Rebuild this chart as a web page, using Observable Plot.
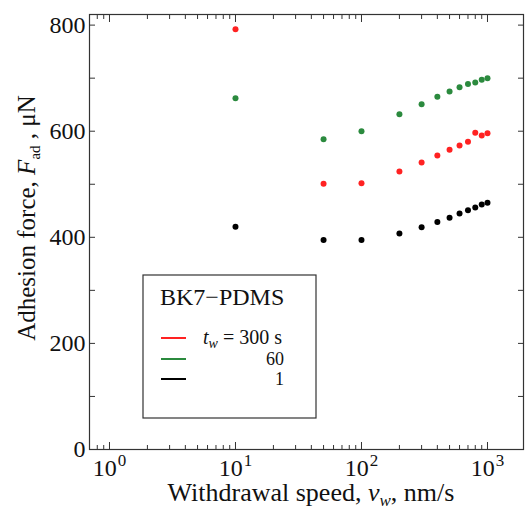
<!DOCTYPE html>
<html><head><meta charset="utf-8">
<script src="https://cdn.jsdelivr.net/npm/d3@7"></script>
<script src="https://cdn.jsdelivr.net/npm/@observablehq/plot@0.6"></script>
<style>
html,body{margin:0;padding:0;background:#fff;}
svg, svg text{font-family:"Liberation Serif","DejaVu Serif",serif;}
</style>
</head><body><div id="chart"></div>
<script>
// ---- data ----
const speeds   = [10, 50, 100, 200, 300, 400, 500, 600, 700, 800, 900, 1000];
const force300 = [792, 501, 502, 524, 541, 554, 565, 573, 580, 597, 592, 596];
const force60  = [662, 585, 600, 632, 651, 665, 675, 683, 689, 692, 697, 700];
const force1   = [420, 395, 395, 407, 419, 429, 437, 445, 451, 456, 462, 465];
const seriesNames  = ["300", "60", "1"];
const seriesColors = ["#ff2222", "#2b8a3e", "#000000"];
const seriesValues = [force300, force60, force1];

// ---- ticks ----
const xMajorTicks = [1, 10, 100, 1000];
const xTickExponents = ["0", "1", "2", "3"];
const xMinorTicks = [0.8, 0.9, 2, 3, 4, 5, 6, 7, 8, 9, 20, 30, 40, 50, 60, 70, 80, 90,
                     200, 300, 400, 500, 600, 700, 800, 900];
const yLabelTicks = [0, 200, 400, 600, 800];
const yAllTicks = [0, 100, 200, 300, 400, 500, 600, 700, 800];

const data = [];
seriesNames.forEach((s, i) => speeds.forEach((v, j) => data.push({tw: s, v, F: seriesValues[i][j]})));

const FONT = '"Liberation Serif", "DejaVu Serif", serif';
const ink = "#333";
const plot = Plot.plot({
  width: 525, height: 509,
  marginLeft: 89, marginTop: 14, marginRight: 2, marginBottom: 60,
  style: {fontFamily: FONT, background: "#fff", color: ink},
  x: {type: "log", domain: [0.694, 1931]},
  y: {domain: [0, 820]},
  color: {domain: seriesNames, range: seriesColors},
  marks: [
    Plot.frame({stroke: ink, strokeWidth: 1.2}),
    Plot.axisY(yLabelTicks, {anchor: "left", tickSize: 0, tickPadding: 4, fontSize: 24, label: null, fill: "#111"}),
    Plot.axisY(yAllTicks, {anchor: "left", text: null, tickSize: 6, dx: 6, label: null, stroke: ink}),
    Plot.axisY(yAllTicks, {anchor: "right", text: null, tickSize: 6, dx: -6, label: null, stroke: ink}),
    Plot.axisX(xMajorTicks, {anchor: "bottom", text: null, tickSize: 7, dy: -7, label: null, stroke: ink}),
    Plot.axisX(xMinorTicks, {anchor: "bottom", text: null, tickSize: 4, dy: -4, label: null, stroke: ink}),
    Plot.axisX(xMajorTicks, {anchor: "top", text: null, tickSize: 7, dy: 7, label: null, stroke: ink}),
    Plot.axisX(xMinorTicks, {anchor: "top", text: null, tickSize: 4, dy: 4, label: null, stroke: ink}),
    Plot.axisX(xMajorTicks, {anchor: "bottom", tickSize: 0, tickPadding: 9, fontSize: 24, label: null, fill: "#111",
      tickFormat: (d) => "10^" + xTickExponents[xMajorTicks.indexOf(d)]}),
    Plot.dot(data, {x: "v", y: "F", fill: "tw", r: 3})
  ]
});
document.getElementById("chart").appendChild(plot);

const svg = d3.select(plot);
svg.selectAll('g[aria-label="x-axis tick label"] text').each(function () {
  const t = d3.select(this);
  const s = t.text();
  if (!s.includes("^")) return;
  const [base, exp] = s.split("^");
  t.text(base);
  t.append("tspan").attr("dy", "-10").attr("dx", 1).attr("font-size", 17).text(exp);
});

// axis titles
const xTitle = svg.append("text")
  .attr("x", 311).attr("y", 501).attr("text-anchor", "middle").attr("font-family", FONT)
  .attr("font-size", 26).attr("fill", "#111");
xTitle.append("tspan").text("Withdrawal speed, ");
xTitle.append("tspan").attr("font-style", "italic").text("v");
xTitle.append("tspan").attr("font-style", "italic").attr("font-size", 17).attr("dy", 5).text("w");
xTitle.append("tspan").attr("dy", -5).text(", nm/s");

const yTitle = svg.append("text")
  .attr("transform", "translate(35,218) rotate(-90)").attr("text-anchor", "middle").attr("font-family", FONT)
  .attr("font-size", 25).attr("fill", "#111");
yTitle.append("tspan").text("Adhesion force, ");
yTitle.append("tspan").attr("font-style", "italic").text("F");
yTitle.append("tspan").attr("font-size", 15).attr("dy", 5).text("ad");
yTitle.append("tspan").attr("dy", -5).text(" , μN");

// legend box
const lg = svg.append("g").attr("text-anchor", "start").attr("font-family", FONT);
lg.append("rect").attr("x", 143).attr("y", 275).attr("width", 173).attr("height", 143)
  .attr("fill", "#fff").attr("stroke", ink).attr("stroke-width", 1.2);
lg.append("text").attr("x", 160).attr("y", 305).attr("text-anchor", "start").attr("font-family", FONT)
  .attr("font-size", 24).attr("fill", "#111").text("BK7−PDMS");
const rowY = [338, 359, 379];
seriesNames.forEach((s, i) => {
  lg.append("line").attr("x1", 161).attr("x2", 186).attr("y1", rowY[i]).attr("y2", rowY[i])
    .attr("stroke", seriesColors[i]).attr("stroke-width", 2);
  if (i === 0) {
    const t = lg.append("text").attr("x", 203).attr("y", rowY[i] + 6).attr("text-anchor", "start")
      .attr("font-family", FONT).attr("font-size", 20).attr("fill", "#111");
    t.append("tspan").attr("font-style", "italic").text("t");
    t.append("tspan").attr("font-style", "italic").attr("font-size", 14).attr("dy", 4).text("w");
    t.append("tspan").attr("dy", -4).text(" = " + s + " s");
  } else {
    lg.append("text").attr("x", 284).attr("y", rowY[i] + 6).attr("text-anchor", "end")
      .attr("font-family", FONT).attr("font-size", 18).attr("fill", "#111").text(s);
  }
});
</script>
</body></html>
